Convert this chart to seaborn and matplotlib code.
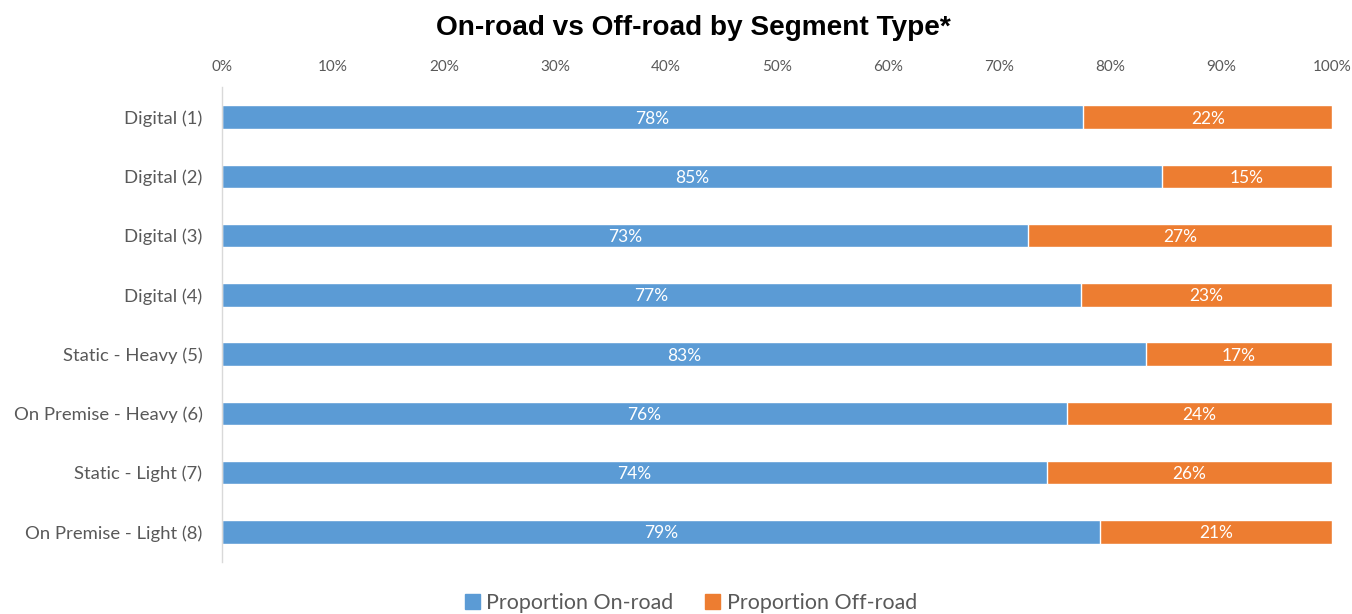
import matplotlib
matplotlib.use("Agg")
import matplotlib.pyplot as plt
from matplotlib.patches import Patch
import seaborn as sns
import pandas as pd

# Segment data (percent of trips)
segments = ["Digital (1)", "Digital (2)", "Digital (3)", "Digital (4)",
            "Static - Heavy (5)", "On Premise - Heavy (6)",
            "Static - Light (7)", "On Premise - Light (8)"]
on_road = [77.6, 84.7, 72.6, 77.4, 83.2, 76.1, 74.3, 79.1]
off_road = [22.4, 15.3, 27.4, 22.6, 16.8, 23.9, 25.7, 20.9]
x_ticks = [0, 10, 20, 30, 40, 50, 60, 70, 80, 90, 100]

BLUE = "#5B9BD5"
ORANGE = "#ED7D31"
GREY = "#595959"

sns.set_theme(style="white")
plt.rcParams["font.family"] = ["Lato", "DejaVu Sans"]

df = pd.DataFrame({"segment": segments, "on": on_road, "off": off_road})
df["total"] = df["on"] + df["off"]

fig = plt.figure(figsize=(13.52, 6.14), dpi=100)
ax = fig.add_axes([0.1642, 0.0855, 0.821, 0.772])

# Stacked bars: full-length off-road layer, on-road layer drawn over it
sns.barplot(data=df, y="segment", x="total", orient="h", color=ORANGE,
            saturation=1, width=0.4, ax=ax)
sns.barplot(data=df, y="segment", x="on", orient="h", color=BLUE,
            saturation=1, width=0.4, ax=ax)

for i, (on, off) in enumerate(zip(on_road, off_road)):
    ax.text(on / 2, i, f"{round(on)}%", ha="center", va="center_baseline",
            color="white", fontsize=12.5)
    ax.text(on + off / 2, i, f"{round(off)}%", ha="center",
            va="center_baseline", color="white", fontsize=12.5)

ax.set_xlim(0, 100)
ax.set_ylim(7.5, -0.5)
ax.set_xticks(x_ticks)
ax.set_xticklabels([f"{t}%" for t in x_ticks], fontsize=11, color=GREY)
ax.xaxis.tick_top()
ax.tick_params(axis="x", length=0, pad=10)
ax.tick_params(axis="y", length=0, pad=14, labelsize=13.3, labelcolor=GREY)
ax.set_xlabel("")
ax.set_ylabel("")
for side in ["top", "right", "bottom"]:
    ax.spines[side].set_visible(False)
ax.spines["left"].set_color("#D9D9D9")
ax.spines["left"].set_linewidth(1)

fig.suptitle("On-road vs Off-road by Segment Type*", x=0.5126, y=0.976,
             fontsize=20.2, fontweight="bold", family="Liberation Sans",
             color="black")

handles = [Patch(color=BLUE, label="Proportion On-road"),
           Patch(color=ORANGE, label="Proportion Off-road")]
leg = fig.legend(handles=handles, loc="lower center", ncol=2, frameon=False,
                 bbox_to_anchor=(0.511, -0.03), fontsize=15.4,
                 handlelength=0.7, handleheight=0.7, handletextpad=0.3,
                 columnspacing=1.5)
for t in leg.get_texts():
    t.set_color(GREY)

fig.savefig("out.png", dpi=100)
